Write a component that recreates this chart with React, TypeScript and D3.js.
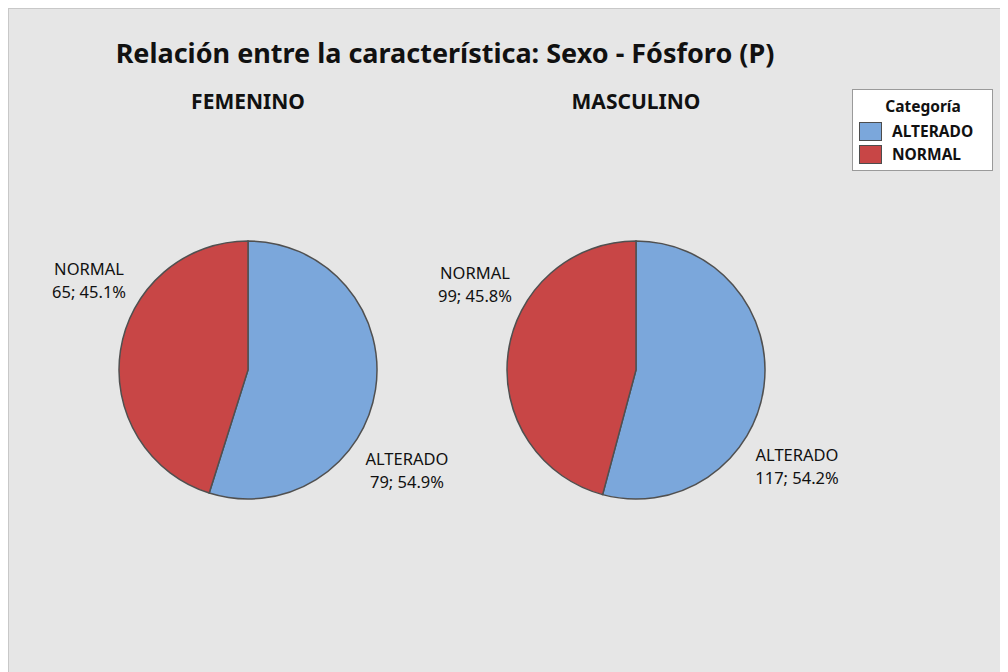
import React from "react";
import * as d3 from "d3";

const categories = ["ALTERADO", "NORMAL"];
const groups = ["FEMENINO", "MASCULINO"];
const femeninoValues = [79, 65];
const masculinoValues = [117, 99];
const colors = ["#7BA7DB", "#C84646"];
const titleText = "Relación entre la característica: Sexo - Fósforo (P)";
const legendTitle = "Categoría";

const W = 1000;
const H = 664;
const FONT = "'Noto Sans', 'Open Sans', sans-serif";

export default function App() {
  const xScale = d3.scalePoint<string>().domain(groups).range([240, 628]);
  const cy = 362;
  const r = 129;
  const pie = d3
    .pie<number>()
    .sort(null)
    .value((d) => d);
  const arc = d3.arc<d3.PieArcDatum<number>>().innerRadius(0).outerRadius(r);
  const seriesList = [femeninoValues, masculinoValues];

  return (
    <svg width={W} height={H} style={{ display: "block", fontFamily: FONT }}>
      <rect x={0.5} y={0.5} width={W} height={H} fill="#e6e6e6" stroke="#c8c8c8" />
      <text x={437} y={55} textAnchor="middle" fontSize={27} fontWeight="bold" fill="#111">
        {titleText}
      </text>
      {groups.map((g, gi) => {
        const cx = xScale(g) as number;
        const vals = seriesList[gi];
        const total = d3.sum(vals);
        const arcs = pie(vals);
        return (
          <g key={g}>
            <text x={cx} y={101} textAnchor="middle" fontSize={21} fontWeight="bold" fill="#111">
              {g}
            </text>
            <g transform={`translate(${cx},${cy})`}>
              {arcs.map((a, i) => (
                <path key={i} d={arc(a) || ""} fill={colors[i]} stroke="#505050" strokeWidth={1.5} />
              ))}
              {arcs.map((a, i) => {
                const mid = (a.startAngle + a.endAngle) / 2 + (22 * Math.PI) / 180;
                const R = 185;
                const x = R * Math.sin(mid);
                const y = -R * Math.cos(mid);
                const pct = ((vals[i] / total) * 100).toFixed(1);
                return (
                  <text key={"l" + i} x={x} y={y} textAnchor="middle" fontSize={16.5} fill="#111">
                    <tspan x={x} dy={0}>{categories[i]}</tspan>
                    <tspan x={x} dy={23}>{`${vals[i]}; ${pct}%`}</tspan>
                  </text>
                );
              })}
            </g>
          </g>
        );
      })}
      <g transform="translate(844,81)">
        <rect x={0.5} y={0.5} width={140} height={81} fill="#ffffff" stroke="#9a9a9a" />
        <text x={71} y={23} textAnchor="middle" fontSize={15.5} fontWeight="bold" fill="#111">
          {legendTitle}
        </text>
        {categories.map((c, i) => (
          <g key={c} transform={`translate(7,${33 + i * 23})`}>
            <rect x={0.5} y={0.5} width={22} height={18} fill={colors[i]} stroke="#4d4d4d" />
            <text x={33} y={15} fontSize={15.5} fontWeight="bold" fill="#111">
              {c}
            </text>
          </g>
        ))}
      </g>
    </svg>
  );
}
